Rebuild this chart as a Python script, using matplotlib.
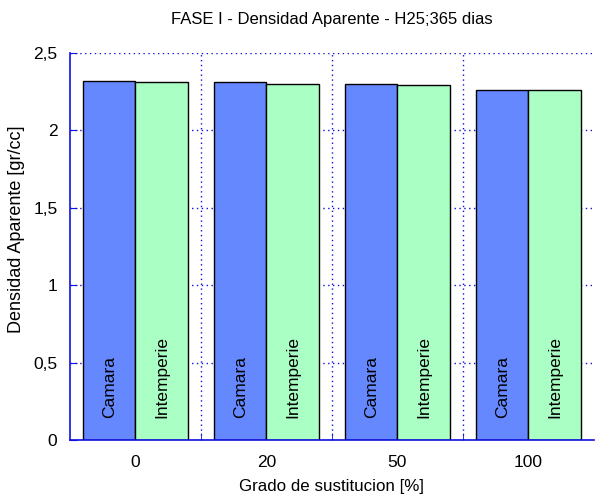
import numpy as np
import matplotlib
matplotlib.use("Agg")
import matplotlib.pyplot as plt
from matplotlib.ticker import FuncFormatter

plt.rcParams["font.family"] = ["Liberation Sans", "DejaVu Sans"]

# data
grupos = ["0", "20", "50", "100"]
camara = [2.32, 2.31, 2.30, 2.26]
intemperie = [2.31, 2.30, 2.29, 2.26]
series_names = ["Camara", "Intemperie"]

blue = "#1010e0"
x = np.arange(len(grupos))
w = 0.4

fig = plt.figure(figsize=(5.95, 4.97), dpi=100)
ax = fig.add_axes([0.1176, 0.1147, 0.8804, 0.7787])

ax.bar(x - w / 2, camara, width=w, color="#6688ff", edgecolor="black", linewidth=1, zorder=2)
ax.bar(x + w / 2, intemperie, width=w, color="#aaffc4", edgecolor="black", linewidth=1, zorder=2)

# labels written inside each bar
for xi in x:
    ax.text(xi - w / 2, 0.14, series_names[0], rotation=90, ha="center", va="bottom", fontsize=12.5, zorder=3)
    ax.text(xi + w / 2, 0.14, series_names[1], rotation=90, ha="center", va="bottom", fontsize=12.5, zorder=3)

ax.set_xlim(-0.5, 3.5)
ax.set_ylim(0, 2.5)
ax.set_xticks(x)
ax.set_xticklabels(grupos)
ax.set_xticks([0.5, 1.5, 2.5], minor=True)
ax.set_yticks([0, 0.5, 1, 1.5, 2, 2.5])
ax.yaxis.set_major_formatter(FuncFormatter(lambda v, p: f"{v:g}".replace(".", ",")))

ax.tick_params(axis="y", direction="in", color=blue, length=5, labelsize=12.5, pad=9)
ax.tick_params(axis="x", which="major", length=0, labelsize=12.5, pad=11)
ax.tick_params(axis="x", which="minor", direction="in", color=blue, length=5)

ax.set_axisbelow(True)
ax.grid(axis="y", which="major", color=blue, linestyle=(0, (1, 2.5)), linewidth=1)
ax.grid(axis="x", which="minor", color=blue, linestyle=(0, (1, 2.5)), linewidth=1)

for s in ["top", "right"]:
    ax.spines[s].set_visible(False)
for s in ["left", "bottom"]:
    ax.spines[s].set_color(blue)
    ax.spines[s].set_linewidth(1.2)

ax.set_title("FASE I - Densidad Aparente - H25;365 dias", fontsize=12, pad=21)
ax.set_xlabel("Grado de sustitucion [%]", fontsize=12.2, labelpad=6)
ax.set_ylabel("Densidad Aparente [gr/cc]", fontsize=13)
ax.yaxis.set_label_coords(-0.086, 0.545)

fig.savefig("out.png", dpi=100)
